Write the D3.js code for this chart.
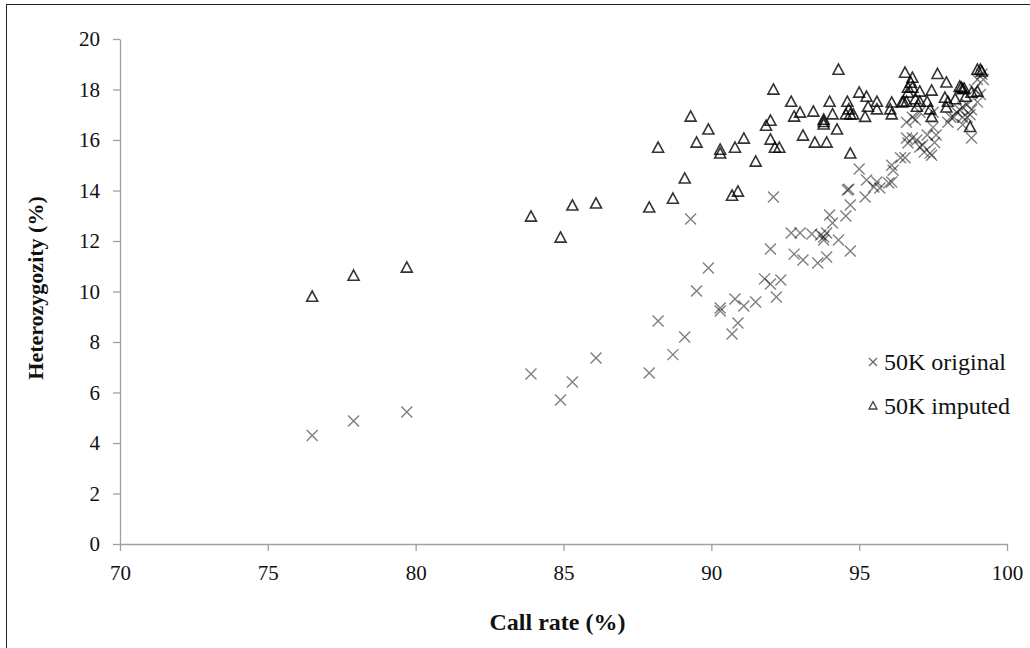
<!DOCTYPE html>
<html>
<head>
<meta charset="utf-8">
<script src="https://cdn.jsdelivr.net/npm/d3@7"></script>
<style>
  body { margin: 0; background: #fff; }
  text { font-family: "Liberation Serif", "Times New Roman", serif; fill: #111; }
</style>
</head>
<body>
<div id="chart"></div>
<script>
// data: [call rate (%), heterozygosity (%)]
var original = [
  [76.5,4.3],[77.9,4.87],[79.7,5.23],[83.9,6.73],[84.9,5.7],[85.3,6.42],[86.1,7.37],[87.9,6.77],
  [88.2,8.83],[88.7,7.5],[89.1,8.2],[89.3,12.87],[89.5,10.02],[89.9,10.93],[90.3,9.35],[90.3,9.23],
  [90.7,8.32],[90.8,9.7],[90.9,8.75],[91.1,9.43],[91.5,9.58],[91.8,10.5],[92.0,10.3],[92.0,11.68],
  [92.1,13.74],[92.2,9.78],[92.35,10.46],[92.7,12.32],[92.8,11.48],[93.0,12.32],[93.1,11.25],[93.4,12.28],
  [93.6,11.13],[93.7,12.24],[93.8,12.16],[93.8,12.04],[93.9,12.32],[93.9,11.37],[94.0,13.03],[94.1,12.71],
  [94.3,12.04],[94.55,12.99],[94.6,14.02],[94.65,14.05],[94.7,13.43],[94.7,11.6],[95.0,14.85],[95.2,13.74],
  [95.25,14.42],[95.5,14.14],[95.6,14.34],[95.7,14.1],[96.0,14.3],[96.1,15.0],[96.1,14.34],[96.15,14.8],
  [96.4,15.3],[96.55,15.3],[96.6,16.08],[96.65,15.88],[96.6,16.7],[96.8,16.08],[96.8,16.9],[96.9,16.8],
  [96.95,16.0],[97.05,15.72],[97.05,17.1],[97.15,15.8],[97.2,15.52],[97.3,16.2],[97.4,15.48],[97.45,15.4],
  [97.5,16.5],[97.5,17.1],[97.55,15.9],[97.6,16.2],[98.0,16.7],[98.1,16.9],[98.2,16.9],[98.3,17.1],
  [98.4,17.2],[98.5,16.6],[98.5,16.9],[98.5,17.3],[98.65,17.4],[98.65,16.9],[98.75,17.0],[98.8,16.08],
  [98.8,17.2],[98.9,18.0],[99.0,17.5],[99.0,18.4],[99.1,17.8],[99.15,18.6],[99.2,18.4]
];

var imputed = [
  [76.5,9.78],[77.9,10.61],[79.7,10.93],[83.9,12.95],[84.9,12.12],[85.3,13.39],[86.1,13.47],[87.9,13.31],
  [88.2,15.68],[88.7,13.66],[89.1,14.46],[89.3,16.91],[89.5,15.88],[89.9,16.4],[90.3,15.6],[90.3,15.45],
  [90.7,13.78],[90.9,13.94],[90.8,15.68],[91.1,16.04],[91.5,15.13],[91.85,16.55],[92.0,16.75],[92.0,16.0],
  [92.1,17.98],[92.15,15.68],[92.3,15.68],[92.7,17.5],[92.8,16.91],[93.0,17.07],[93.1,16.16],[93.45,17.11],
  [93.5,15.88],[93.8,16.79],[93.8,16.7],[93.8,16.6],[93.9,15.88],[94.0,17.5],[94.1,17.0],[94.25,16.4],
  [94.3,18.77],[94.55,17.0],[94.6,17.5],[94.65,17.2],[94.7,17.0],[94.7,15.45],[94.8,17.0],[95.0,17.86],
  [95.2,16.9],[95.25,17.7],[95.3,17.3],[95.6,17.5],[95.6,17.2],[96.05,17.2],[96.1,17.47],[96.1,17.0],
  [96.45,17.47],[96.5,17.5],[96.55,18.65],[96.6,17.5],[96.65,17.86],[96.65,18.06],[96.75,18.25],[96.8,18.45],
  [96.8,18.06],[96.9,17.6],[96.95,17.3],[97.05,17.9],[97.05,17.5],[97.3,17.5],[97.4,17.2],[97.45,17.94],
  [97.45,16.9],[97.65,18.6],[97.9,17.66],[97.95,18.26],[97.95,17.27],[98.0,17.5],[98.25,17.6],[98.4,18.1],
  [98.45,18.06],[98.5,18.0],[98.55,18.02],[98.6,17.7],[98.75,16.5],[98.8,17.86],[99.0,17.9],[99.0,18.77],
  [99.1,18.77],[99.15,18.7]
];

var xTicks = [70, 75, 80, 85, 90, 95, 100];
var yTicks = [0, 2, 4, 6, 8, 10, 12, 14, 16, 18, 20];
var legendLabels = ["50K original", "50K imputed"];

// dimensions
var W = 1030, H = 648;
var margin = {top: 39, right: 23, bottom: 104, left: 120},
    width = W - margin.left - margin.right,
    height = H - margin.top - margin.bottom;

var xScale = d3.scaleLinear().domain([70, 100]).range([0, width]);
var yScale = d3.scaleLinear().domain([0, 20]).range([height, 0]);

var svg = d3.select("#chart").append("svg")
    .attr("width", W)
    .attr("height", H);

// outer frame
svg.append("rect")
    .attr("x", 6.5).attr("y", 4.5)
    .attr("width", W + 20).attr("height", H + 20)
    .attr("fill", "none")
    .attr("stroke", "#222")
    .attr("stroke-width", 1);

var g = svg.append("g")
    .attr("transform", "translate(" + margin.left + "," + margin.top + ")");

// axes
var xAxis = g.append("g")
    .attr("transform", "translate(0," + height + ")")
    .call(d3.axisBottom(xScale).tickValues(xTicks).tickSize(7).tickPadding(14).tickSizeOuter(0));

var yAxis = g.append("g")
    .call(d3.axisLeft(yScale).tickValues(yTicks).tickSize(7).tickPadding(13).tickSizeOuter(0));

[xAxis, yAxis].forEach(function(a) {
  a.select(".domain").attr("stroke", "#a0a0a0").attr("stroke-width", 1.3);
  a.selectAll(".tick line").attr("stroke", "#a0a0a0").attr("stroke-width", 1.3);
  a.selectAll(".tick text")
      .style("font-family", "'Liberation Serif', 'Times New Roman', serif")
      .style("font-size", "21px")
      .attr("fill", "#111");
});

// axis titles
svg.append("text")
    .attr("x", margin.left + width / 2 - 6)
    .attr("y", 630)
    .attr("text-anchor", "middle")
    .style("font-size", "24px")
    .style("font-weight", "bold")
    .text("Call rate (%)");

svg.append("text")
    .attr("transform", "translate(43," + 288 + ") rotate(-90)")
    .attr("text-anchor", "middle")
    .style("font-size", "22px")
    .style("font-weight", "bold")
    .text("Heterozygozity (%)");

// marker shapes
function crossPath(s) {
  return "M" + (-s) + "," + (-s) + "L" + s + "," + s + "M" + (-s) + "," + s + "L" + s + "," + (-s);
}
function triPath(s) {
  return "M0," + (-s * 1.1) + "L" + s + "," + (s * 0.75) + "L" + (-s) + "," + (s * 0.75) + "Z";
}

// 50K original
g.selectAll(".cross")
    .data(original)
  .enter().append("path")
    .attr("class", "cross")
    .attr("transform", function(d) { return "translate(" + xScale(d[0]) + "," + yScale(d[1]) + ")"; })
    .attr("d", crossPath(5.5))
    .attr("fill", "none")
    .attr("stroke", "#000")
    .attr("stroke-opacity", 0.5)
    .attr("stroke-width", 1.4);

// 50K imputed
g.selectAll(".tri")
    .data(imputed)
  .enter().append("path")
    .attr("class", "tri")
    .attr("transform", function(d) { return "translate(" + xScale(d[0]) + "," + yScale(d[1]) + ")"; })
    .attr("d", triPath(5.5))
    .attr("fill", "none")
    .attr("stroke", "#000")
    .attr("stroke-opacity", 0.8)
    .attr("stroke-width", 1.6);

// legend
var legend = svg.append("g").attr("transform", "translate(873,362)");

legend.append("path")
    .attr("d", crossPath(4))
    .attr("fill", "none")
    .attr("stroke", "#666")
    .attr("stroke-width", 1.2);

legend.append("path")
    .attr("transform", "translate(0,44)")
    .attr("d", triPath(4))
    .attr("fill", "none")
    .attr("stroke", "#444")
    .attr("stroke-width", 1.3);

legend.selectAll(".ltext")
    .data(legendLabels)
  .enter().append("text")
    .attr("x", 11)
    .attr("y", function(d, i) { return i * 44 + 8; })
    .style("font-size", "24px")
    .text(function(d) { return d; });
</script>
</body>
</html>
